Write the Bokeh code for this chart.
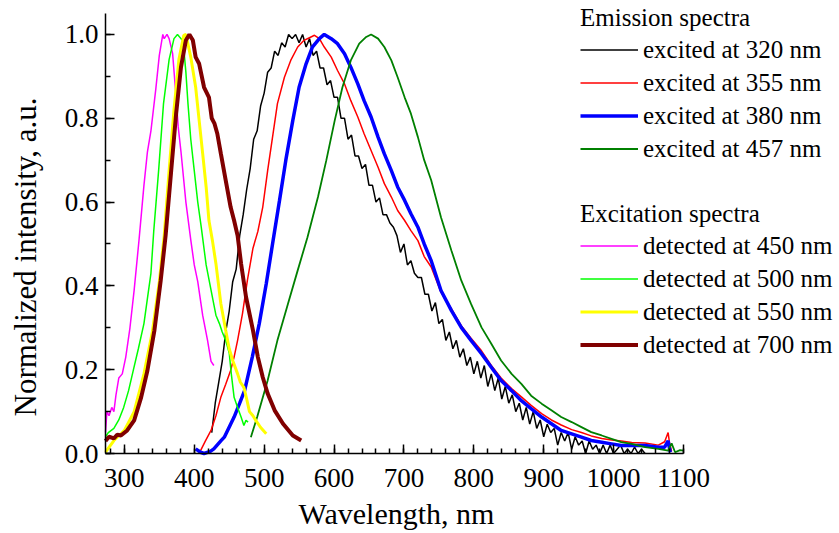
import math
from bokeh.plotting import figure
from bokeh.models import (Range1d, SingleIntervalTicker, Legend, LegendItem,
                          PrintfTickFormatter, Label)
from bokeh.embed import file_html
from bokeh.resources import INLINE

FONT = "Liberation Serif"

# ---------------- data ----------------
# Excitation spectra
mag_x = [273, 275, 278, 282, 285, 288, 292, 297, 302, 308, 314, 321, 328, 333, 338, 345,
         350, 355, 357, 361, 364, 369, 374, 377, 381, 388, 395, 400, 405, 412, 419, 424, 428]
mag_y = [0.05, 0.10, 0.09, 0.11, 0.10, 0.14, 0.18, 0.19, 0.23, 0.30, 0.39, 0.51, 0.64, 0.72,
         0.77, 0.87, 0.95, 1.00, 0.99, 1.00, 0.99, 0.955, 0.85, 0.78, 0.72, 0.60, 0.51, 0.45,
         0.41, 0.33, 0.27, 0.22, 0.21]

lime_x = [273, 277, 285, 292, 299, 306, 313, 320, 328, 333, 338, 342, 349, 356, 364, 371,
          376, 381, 384, 388, 391, 395, 400, 405, 410, 417, 424, 431, 436, 440, 445, 450,
          453, 457, 462, 467, 471, 474, 477]
lime_y = [0.04, 0.05, 0.06, 0.08, 0.11, 0.15, 0.20, 0.25, 0.31, 0.37, 0.43, 0.53, 0.675,
          0.835, 0.94, 0.99, 1.00, 0.99, 0.985, 0.91, 0.835, 0.75, 0.675, 0.60, 0.54, 0.45,
          0.39, 0.33, 0.31, 0.29, 0.27, 0.24, 0.19, 0.134, 0.11, 0.087, 0.067, 0.079, 0.075]

yel_x = [273, 285, 300, 314, 328, 340, 350, 357, 364, 371, 378, 385, 388, 395, 402, 407,
         412, 417, 421, 426, 431, 438, 445, 450, 455, 462, 466, 471, 475, 479, 484, 488,
         495, 503]
yel_y = [0.003, 0.031, 0.055, 0.10, 0.19, 0.29, 0.41, 0.52, 0.675, 0.82, 0.94, 0.998, 1.00,
         0.946, 0.874, 0.795, 0.716, 0.636, 0.556, 0.508, 0.453, 0.358, 0.294, 0.25, 0.222,
         0.19, 0.17, 0.158, 0.13, 0.10, 0.09, 0.079, 0.062, 0.047]

brn_x = [273, 278, 285, 290, 295, 304, 314, 324, 333, 343, 352, 359, 367, 374, 381, 388,
         393, 398, 402, 407, 414, 421, 425, 429, 433, 438, 445, 452, 457, 462, 467, 474,
         484, 491, 498, 505, 515, 527, 541, 553]
brn_y = [0.03, 0.04, 0.036, 0.045, 0.043, 0.055, 0.079, 0.134, 0.198, 0.294, 0.413, 0.52,
         0.675, 0.81, 0.922, 0.986, 1.00, 0.986, 0.946, 0.93, 0.874, 0.85, 0.80, 0.787, 0.763,
         0.716, 0.652, 0.588, 0.556, 0.52, 0.453, 0.374, 0.294, 0.23, 0.182, 0.143, 0.103,
         0.071, 0.043, 0.031]

# Emission spectra
blk_x = [425, 430, 435, 440, 445, 450, 455, 460, 465, 470, 475, 480, 485, 490, 495, 500,
         505, 510, 515, 520, 525, 530, 535, 540, 545, 550, 555, 560, 565, 570, 575, 580,
         585, 590, 595, 600, 605, 610, 615, 620, 625, 630, 635, 640, 645, 650, 655, 660,
         665, 670, 675, 680, 685, 690, 695, 700, 705, 710, 715, 720, 725, 730, 735, 740,
         745, 750, 755, 760, 765, 770, 775, 780, 785, 790, 795, 800, 805, 810, 815, 820,
         825, 830, 835, 840, 845, 850, 855, 860, 865, 870, 875, 880, 885, 890, 895, 900,
         905, 910, 915, 920, 925, 930, 935, 940, 945, 950, 955, 960, 965, 970, 975, 980,
         985, 990, 995, 1000, 1005, 1010, 1015, 1020, 1025, 1030, 1035, 1040, 1045]
blk_y = [0.05, 0.12, 0.17, 0.22, 0.29, 0.34, 0.41, 0.44, 0.52, 0.57, 0.63, 0.68, 0.75, 0.77,
         0.83, 0.86, 0.91, 0.92, 0.96, 0.95, 0.98, 0.97, 1.00, 0.99, 1.00, 0.98, 1.00, 0.97,
         0.99, 0.95, 0.96, 0.92, 0.92, 0.88, 0.89, 0.85, 0.85, 0.80, 0.80, 0.75, 0.76, 0.71,
         0.71, 0.68, 0.69, 0.64, 0.64, 0.60, 0.61, 0.57, 0.57, 0.55, 0.54, 0.52, 0.48, 0.50,
         0.45, 0.46, 0.43, 0.42, 0.42, 0.38, 0.38, 0.34, 0.36, 0.31, 0.32, 0.27, 0.29, 0.25,
         0.27, 0.23, 0.25, 0.21, 0.23, 0.19, 0.22, 0.18, 0.21, 0.16, 0.19, 0.15, 0.18, 0.13,
         0.16, 0.12, 0.14, 0.10, 0.12, 0.08, 0.11, 0.07, 0.10, 0.06, 0.08, 0.04, 0.07, 0.05,
         0.06, 0.02, 0.05, 0.03, 0.05, 0.01, 0.04, 0.02, 0.03, 0.00, 0.03, 0.01, 0.02, 0.00,
         0.02, 0.00, 0.02, 0.00, 0.01, 0.02, 0.00, 0.01, 0.00, 0.015, 0.00, 0.01, 0.00]

red_x = [409, 416, 424, 431, 438, 445, 452, 457, 462, 469, 476, 484, 491, 498, 505, 512,
         519, 529, 538, 548, 557, 567, 572, 579, 586, 596, 605, 615, 624, 634, 643, 653,
         663, 672, 682, 691, 701, 710, 720, 729, 739, 753, 768, 782, 796, 811, 825, 839,
         854, 868, 882, 897, 911, 925, 940, 954, 968, 983, 997, 1011, 1026, 1045, 1064,
         1073, 1078, 1080, 1083]
red_y = [0.007, 0.03, 0.055, 0.09, 0.134, 0.165, 0.198, 0.23, 0.27, 0.334, 0.413, 0.49,
         0.53, 0.588, 0.675, 0.755, 0.835, 0.898, 0.938, 0.97, 0.986, 0.994, 0.998, 0.99,
         0.97, 0.946, 0.914, 0.882, 0.842, 0.803, 0.763, 0.723, 0.683, 0.644, 0.612, 0.58,
         0.556, 0.532, 0.508, 0.47, 0.445, 0.385, 0.345, 0.305, 0.275, 0.245, 0.21, 0.18,
         0.155, 0.135, 0.115, 0.095, 0.08, 0.068, 0.057, 0.05, 0.042, 0.036, 0.032, 0.03,
         0.026, 0.025, 0.02, 0.028, 0.05, 0.025, 0.005]

blu_x = [402, 409, 414, 423, 428, 438, 443, 452, 457, 465, 472, 483, 493, 503, 512, 522,
         531, 541, 550, 560, 569, 579, 586, 596, 605, 615, 624, 634, 643, 653, 663, 672,
         682, 691, 701, 710, 720, 729, 739, 753, 768, 782, 796, 811, 825, 839, 854, 868,
         882, 897, 911, 925, 940, 954, 968, 983, 997, 1011, 1026, 1045, 1064, 1073, 1078,
         1081]
blu_y = [0.011, 0.003, 0.0, 0.005, 0.011, 0.03, 0.039, 0.07, 0.087, 0.12, 0.15, 0.23, 0.31,
         0.405, 0.50, 0.604, 0.70, 0.795, 0.874, 0.93, 0.97, 0.99, 1.00, 0.99, 0.978, 0.954,
         0.922, 0.882, 0.842, 0.803, 0.755, 0.715, 0.675, 0.636, 0.604, 0.572, 0.54, 0.50,
         0.46, 0.389, 0.341, 0.301, 0.27, 0.238, 0.206, 0.174, 0.15, 0.126, 0.107, 0.087,
         0.071, 0.055, 0.047, 0.039, 0.031, 0.027, 0.023, 0.019, 0.019, 0.019, 0.015, 0.015,
         0.03, 0.003]

grn_x = [481, 490, 505, 519, 534, 548, 562, 577, 589, 601, 612, 624, 636, 646, 653, 663,
         672, 682, 691, 701, 710, 720, 729, 739, 753, 768, 782, 796, 811, 825, 839, 854,
         868, 882, 897, 911, 925, 940, 954, 968, 983, 997, 1011, 1026, 1045, 1064, 1078,
         1083, 1088, 1095, 1100]
grn_y = [0.039, 0.087, 0.174, 0.27, 0.357, 0.437, 0.516, 0.612, 0.70, 0.795, 0.874, 0.938,
         0.978, 0.994, 1.00, 0.99, 0.97, 0.938, 0.898, 0.85, 0.811, 0.755, 0.70, 0.652,
         0.564, 0.484, 0.413, 0.357, 0.301, 0.262, 0.222, 0.19, 0.166, 0.138, 0.119, 0.103,
         0.087, 0.075, 0.063, 0.051, 0.043, 0.035, 0.027, 0.023, 0.015, 0.011, 0.007, 0.024,
         0.003, 0.008, 0.007]

emission_labels = ["excited at 320 nm", "excited at 355 nm", "excited at 380 nm",
                   "excited at 457 nm"]
excitation_labels = ["detected at 450 nm", "detected at 500 nm", "detected at 550 nm",
                     "detected at 700 nm"]
x_title = "Wavelength, nm"
y_title = "Normalized intensity, a.u."

# drawn axis extents
X_AXIS = (273, 1100)
Y_AXIS = (0, 1.05)

# ---------------- layout (pixels) ----------------
W, H = 835, 530
AX_LEFT, AX_RIGHT = 105, 683     # page x of 273 nm and 1100 nm
AX_BOTTOM, AX_TOP = 453, 13      # page y of 0.0 and 1.05
sx = (AX_RIGHT - AX_LEFT) / (X_AXIS[1] - X_AXIS[0])
sy = (AX_BOTTOM - AX_TOP) / (Y_AXIS[1] - Y_AXIS[0])
x0 = X_AXIS[0] - AX_LEFT / sx
x1 = X_AXIS[0] + (W - AX_LEFT) / sx
y0 = -(H - AX_BOTTOM) / sy
y1 = AX_BOTTOM / sy


def px_to_x(px):
    return X_AXIS[0] + (px - AX_LEFT) / sx


def py_to_y(py):
    return (AX_BOTTOM - py) / sy


# ---------------- figure ----------------
p = figure(width=W, height=H,
           x_range=Range1d(x0, x1), y_range=Range1d(y0, y1),
           output_backend="svg", toolbar_location=None, min_border=0)
p.outline_line_color = None
p.grid.visible = False
p.background_fill_color = "white"

r_blk = p.line(blk_x, blk_y, line_color="#000000", line_width=1.5)
r_red = p.line(red_x, red_y, line_color="#ff0000", line_width=1.5)
r_blu = p.line(blu_x, blu_y, line_color="#0000ff", line_width=3.5)
r_grn = p.line(grn_x, grn_y, line_color="#008000", line_width=1.8)
r_mag = p.line(mag_x, mag_y, line_color="#ff00ff", line_width=1.5)
r_lim = p.line(lime_x, lime_y, line_color="#00ff00", line_width=1.5)
r_yel = p.line(yel_x, yel_y, line_color="#ffff00", line_width=3)
r_brn = p.line(brn_x, brn_y, line_color="#800000", line_width=4)

p.xaxis.ticker = SingleIntervalTicker(interval=100, num_minor_ticks=5)
p.yaxis.ticker = SingleIntervalTicker(interval=0.2, num_minor_ticks=2)
p.yaxis.formatter = PrintfTickFormatter(format="%.1f")
p.xaxis.bounds = X_AXIS
p.yaxis.bounds = Y_AXIS
p.xaxis.fixed_location = Y_AXIS[0]
p.yaxis.fixed_location = X_AXIS[0]

for ax in (p.xaxis[0], p.yaxis[0]):
    ax.major_tick_in = 9
    ax.major_tick_out = 0
    ax.minor_tick_in = 5
    ax.minor_tick_out = 0
    ax.axis_line_width = 1.5
    ax.major_tick_line_width = 1.5
    ax.minor_tick_line_width = 1.5
    ax.axis_line_color = "black"
    ax.major_tick_line_color = "black"
    ax.minor_tick_line_color = "black"
    ax.major_label_text_font = FONT
    ax.major_label_text_font_size = "27px"
    ax.major_label_text_color = "black"
p.xaxis.major_label_standoff = 15
p.yaxis.major_label_standoff = 7

p.add_layout(Label(x=px_to_x(298), y=py_to_y(513), text=x_title,
                   text_align="left", text_baseline="middle",
                   text_font=FONT, text_font_size="30px", text_color="black"))
p.add_layout(Label(x=px_to_x(25), y=py_to_y(416), text=y_title, angle=math.pi / 2,
                   text_align="left", text_baseline="middle",
                   text_font=FONT, text_font_size="31px", text_color="black"))


def make_legend(title, labels, renderers, loc):
    leg = Legend(items=[LegendItem(label=l, renderers=[r]) for l, r in zip(labels, renderers)],
                 title=title, location=loc)
    leg.title_text_font = FONT
    leg.title_text_font_size = "25px"
    leg.title_text_font_style = "normal"
    leg.title_text_color = "black"
    leg.title_standoff = 1
    leg.label_text_font = FONT
    leg.label_text_font_size = "25px"
    leg.label_text_color = "black"
    leg.glyph_width = 58
    leg.glyph_height = 33
    leg.label_height = 33
    leg.spacing = 0
    leg.padding = 0
    leg.margin = 0
    leg.label_standoff = 5
    leg.border_line_color = None
    leg.background_fill_alpha = 0
    return leg


# legend positions: (left, bottom) in pixels from the lower-left of the canvas
p.add_layout(make_legend("Emission spectra", emission_labels,
                         [r_blk, r_red, r_blu, r_grn], (580, H - 165)))
p.add_layout(make_legend("Excitation spectra", excitation_labels,
                         [r_mag, r_lim, r_yel, r_brn], (580, H - 361)))

open("out.html", "w").write(file_html(p, INLINE))
